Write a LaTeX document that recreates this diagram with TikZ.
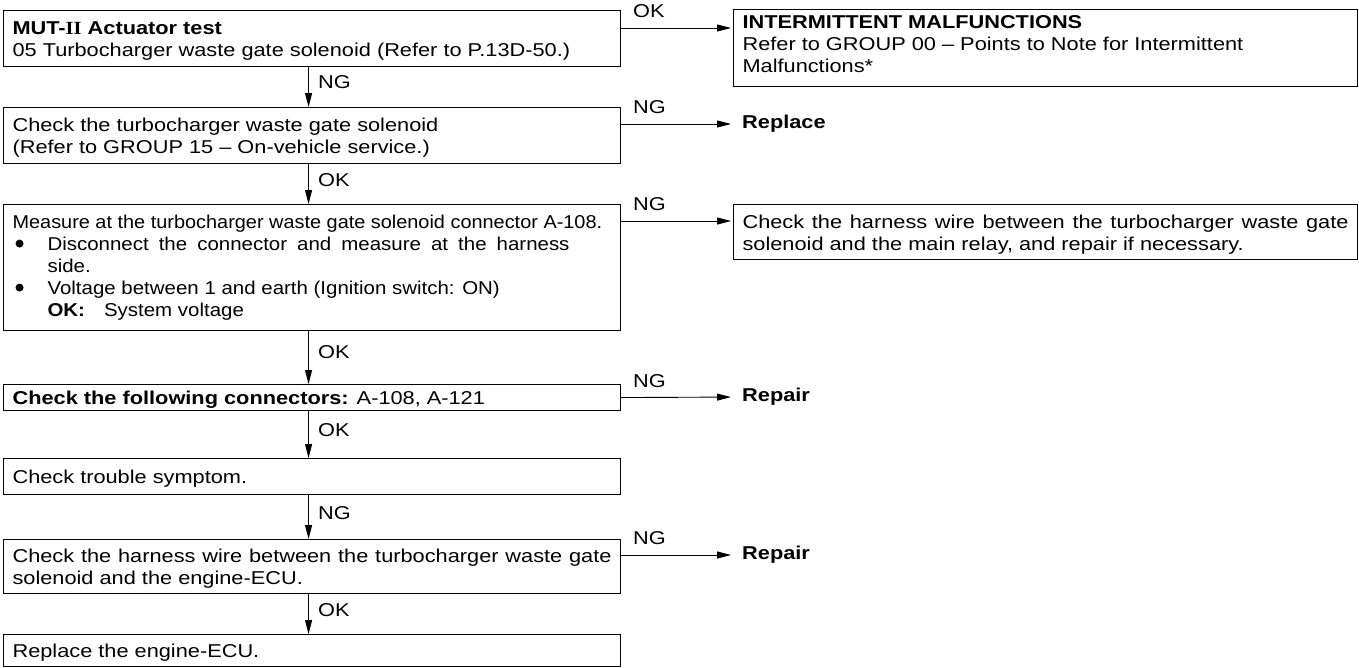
\documentclass[tikz,border=0pt]{standalone}
\usepackage{fontspec}
\setmainfont{Liberation Sans}[FakeStretch=1.17]
\newfontfamily\condfont{Liberation Sans}[FakeStretch=1.1]
\newfontfamily\narrowfont{Liberation Sans}[FakeStretch=1.07]
\newfontfamily\romfont{Liberation Serif}[FakeStretch=1.1]
\usetikzlibrary{arrows.meta}
\newcommand{\txtsize}{\fontsize{18.6pt}{22pt}\selectfont}
\newcommand{\boxtext}[4]{\begin{minipage}[c][#2][t]{#1}\txtsize\vspace*{#3}\raggedright #4\end{minipage}}
\newcommand{\fl}{\rule{0pt}{14pt}}
\newcommand{\bul}{\makebox[35pt][l]{\hspace*{3pt}\tikz[baseline=-6.7pt]\fill (0,0) circle (4pt);}}
\tikzset{
  box/.style={draw, line width=1.1pt, anchor=north west, inner sep=0pt, inner xsep=9pt},
  arr/.style={line width=0.9pt, -{Triangle[length=14pt,width=7pt]}},
  lbl/.style={anchor=west, inner sep=0pt, font=\txtsize},
  res/.style={anchor=west, inner sep=0pt, font=\txtsize\bfseries},
}
\begin{document}
\begin{tikzpicture}[x=1pt,y=-1pt]
\useasboundingbox (0,0) rectangle (1359,667);
\fill[white] (0,0) rectangle (1359,667);

% left column
\node[box] (b1) at (3,10) {\boxtext{599pt}{56pt}{9.7pt}{\fl\textbf{MUT-{\romfont II} Actuator test}\\05 Turbocharger waste gate solenoid (Refer to P.13D-50.)}};
\node[box] (b2) at (3,107) {\boxtext{599pt}{56pt}{9.7pt}{\fl Check the turbocharger waste gate solenoid\\(Refer to GROUP 15 – On-vehicle service.)}};
\node[box] (b3) at (3,204) {\boxtext{599pt}{126pt}{9.7pt}{\fl{\narrowfont Measure at the turbocharger waste gate solenoid connector A-108.}\\
\condfont\bul\makebox[522pt][s]{Disconnect the connector and measure at the harness}\\
\hspace*{35pt}side.\\
\bul Voltage between 1 and earth (Ignition switch: ON)\\
\hspace*{35pt}\textbf{OK:}\hspace{19pt}System voltage}};
\node[box] (b4) at (3,384) {\boxtext{599pt}{26pt}{5.7pt}{\fl\textbf{Check the following connectors:} A-108, A-121}};
\node[box] (b5) at (3,458) {\boxtext{599pt}{36pt}{10.7pt}{\fl Check trouble symptom.}};
\node[box] (b6) at (3,539) {\boxtext{599pt}{54pt}{8.7pt}{\fl\makebox[\linewidth][s]{Check the harness wire between the turbocharger waste gate}\\solenoid and the engine-ECU.}};
\node[box] (b7) at (3,634) {\boxtext{599pt}{32pt}{8.7pt}{\fl Replace the engine-ECU.}};

% right column
\node[box] (r1) at (733,9) {\boxtext{606pt}{77pt}{4.7pt}{\fl\textbf{INTERMITTENT MALFUNCTIONS}\\Refer to GROUP 00 – Points to Note for Intermittent\\Malfunctions*}};
\node[res] (r2) at (742,124) {Replace};
\node[box] (r3) at (733,204) {\boxtext{606pt}{55pt}{9.7pt}{\fl\makebox[\linewidth][s]{Check the harness wire between the turbocharger waste gate}\\solenoid and the main relay, and repair if necessary.}};
\node[res] (r4) at (742,397) {Repair};
\node[res] (r6) at (742,555) {Repair};

% vertical connectors
\draw[arr] ([xshift=-3.5pt]b1.south) -- ([xshift=-3.5pt]b2.north);
\draw[arr] ([xshift=-3.5pt]b2.south) -- ([xshift=-3.5pt]b3.north);
\draw[arr] ([xshift=-3.5pt]b3.south) -- ([xshift=-3.5pt]b4.north);
\draw[arr] ([xshift=-3.5pt]b4.south) -- ([xshift=-3.5pt]b5.north);
\draw[arr] ([xshift=-3.5pt]b5.south) -- ([xshift=-3.5pt]b6.north);
\draw[arr] ([xshift=-3.5pt]b6.south) -- ([xshift=-3.5pt]b7.north);
\node[lbl] (v1) at (318,82) {NG};
\node[lbl] (v2) at (318,180) {OK};
\node[lbl] (v3) at (318,352) {OK};
\node[lbl] (v4) at (318,430) {OK};
\node[lbl] (v5) at (318,513) {NG};
\node[lbl] (v6) at (318,610) {OK};

% horizontal connectors
\draw[arr, shorten >=2pt] ([yshift=-18pt]b1.north east) -- ([yshift=-18pt]b1.north east -| r1.west);
\draw[arr, shorten >=11pt] ([yshift=-17pt]b2.north east) -- (r2.west);
\draw[arr, shorten >=2pt] ([yshift=-17pt]b3.north east) -- ([yshift=-17pt]r3.north west);
\draw[arr, shorten >=11pt] (b4.east) -- (r4.west);
\draw[arr, shorten >=11pt] ([yshift=-16pt]b6.north east) -- (r6.west);
\node[lbl] (h1) at (633,11) {OK};
\node[lbl] (h2) at (633,107) {NG};
\node[lbl] (h3) at (633,204) {NG};
\node[lbl] (h4) at (633,381) {NG};
\node[lbl] (h6) at (633,538) {NG};
\end{tikzpicture}
\end{document}
